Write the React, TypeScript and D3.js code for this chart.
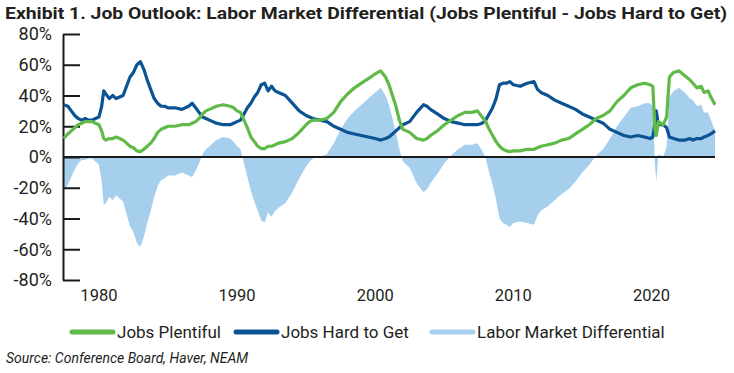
import React, { useEffect, useRef } from "react";
import * as d3 from "d3";

// decimal years of the readings
const dates = [
  1977.45, 1977.75, 1978, 1978.25, 1978.5, 1978.75, 1979, 1979.25, 1979.5, 1979.75,
  1980, 1980.2, 1980.35, 1980.5, 1980.75, 1981, 1981.25, 1981.5, 1981.75, 1982, 1982.25, 1982.5,
  1982.75, 1983, 1983.25, 1983.5, 1983.75, 1984, 1984.25, 1984.5, 1984.75, 1985, 1985.5, 1986,
  1986.5, 1986.75, 1987, 1987.25, 1987.5, 1987.75, 1988, 1988.5, 1989, 1989.5, 1989.75,
  1990, 1990.25, 1990.5, 1990.75, 1991, 1991.25, 1991.5, 1991.75, 1992, 1992.25, 1992.5, 1992.75,
  1993, 1993.5, 1994, 1994.5, 1995, 1995.25, 1995.5, 1996, 1996.5, 1997, 1997.5, 1998, 1998.5,
  1999, 1999.5,
  2000, 2000.4, 2000.75, 2001, 2001.25, 2001.5, 2001.75, 2002, 2002.5, 2003, 2003.5, 2003.75,
  2004, 2004.5, 2005, 2005.5, 2006, 2006.5, 2007, 2007.4, 2007.75, 2008, 2008.25, 2008.5,
  2008.75, 2009, 2009.25, 2009.5, 2009.75,
  2010, 2010.5, 2011, 2011.5, 2011.75, 2012, 2012.5, 2013, 2013.5, 2014, 2014.5, 2015, 2015.5,
  2016, 2016.5, 2017, 2017.5, 2018, 2018.5, 2019, 2019.5, 2019.9,
  2020.1, 2020.25, 2020.35, 2020.5, 2020.85, 2021.1, 2021.3, 2021.6, 2022, 2022.4, 2022.8,
  2023, 2023.3, 2023.6, 2023.8, 2024.1, 2024.3, 2024.6,
];

const jobsPlentiful = [
  12, 15, 17, 19, 21, 22, 23, 23, 23, 22,
  21, 17, 12, 11, 12, 12, 13, 12, 11, 9, 7, 6,
  4, 3.5, 5, 7, 9, 12, 16, 18, 19, 20, 20, 21,
  21, 22, 23, 25, 28, 30, 31, 33, 34, 33, 32,
  30, 29, 24, 19, 13, 10, 7, 5.5, 5.5, 7, 7, 8,
  9, 10, 12, 16, 21, 23, 24, 24, 25, 29, 36, 41, 45,
  48, 51,
  54, 56, 52, 47, 40, 33, 24, 18, 16, 12, 11, 12,
  14, 17, 21, 24, 27, 29, 29, 30, 26, 23, 18, 14,
  10, 7, 5, 4, 3.5,
  4, 4, 5, 5, 6, 7, 8, 9, 11, 12, 15, 18, 21,
  25, 27, 30, 36, 40, 45, 47, 48, 47,
  46, 18, 14, 23, 21, 26, 52, 55, 56, 53, 50,
  48, 45, 46, 42, 43, 39, 34,
];

const jobsHardToGet = [
  34, 33, 30, 27, 25, 24, 25, 24, 24, 25,
  26, 33, 43, 41, 38, 40, 38, 39, 40, 46, 52, 55,
  60, 62, 57, 50, 44, 38, 35, 33, 33, 32, 32, 31,
  33, 35, 32, 29, 26, 25, 24, 22, 21, 21, 22,
  23, 24, 28, 32, 35, 39, 42, 47, 48, 43, 46, 43,
  42, 40, 35, 30, 27, 26, 25, 24, 23, 20, 18, 16, 15,
  14, 13,
  12, 11, 12, 13, 15, 17, 19, 21, 23, 29, 34, 33,
  31, 28, 25, 23, 22, 21, 21, 21, 22, 24, 28, 32,
  38, 47, 48, 48, 49,
  47, 46, 48, 49, 44, 42, 40, 37, 35, 33, 31, 28, 26,
  24, 22, 18, 16, 14, 13, 14, 13, 12,
  13, 22, 30, 21, 21, 19, 13, 12, 11, 11, 12,
  11, 12, 12, 13, 14, 15, 17,
];

const yTicks = [-80, -60, -40, -20, 0, 20, 40, 60, 80];
const xTicks = [1980, 1990, 2000, 2010, 2020];

const seriesNames = ["Jobs Plentiful", "Jobs Hard to Get", "Labor Market Differential"];
const seriesColors = ["#5fba47", "#0b5392", "#a6cfee"];

const App = () => {
  const chartRef = useRef(null);

  useEffect(() => {
    const width = 734;
    const height = 373;
    const font = "Roboto, 'Open Sans', sans-serif";
    const textColor = "#231f20";

    const svg = d3.select(chartRef.current).attr("width", width).attr("height", height);
    svg.selectAll("*").remove();

    const x = d3.scaleLinear().domain([1977.4, 2024.6]).range([63, 715]);
    const y = d3.scaleLinear().domain([-80, 80]).range([280, 34]);

    const points = dates.map((d, i) => ({
      x: d,
      jp: jobsPlentiful[i],
      jh: jobsHardToGet[i],
      diff: jobsPlentiful[i] - jobsHardToGet[i],
    }));

    // title
    svg
      .append("text")
      .attr("x", 5)
      .attr("y", 19)
      .attr("font-family", font)
      .attr("font-weight", 700)
      .attr("font-size", 16)
      .attr("fill", textColor)
      .attr("textLength", 722)
      .attr("lengthAdjust", "spacingAndGlyphs")
      .text("Exhibit 1. Job Outlook: Labor Market Differential (Jobs Plentiful - Jobs Hard to Get)");

    // differential area
    const area = d3
      .area()
      .x((d) => x(d.x))
      .y0(y(0))
      .y1((d) => y(d.diff));

    svg.append("path").datum(points).attr("fill", seriesColors[2]).attr("d", area);

    // zero line
    svg
      .append("line")
      .attr("x1", x.range()[0])
      .attr("x2", x.range()[1])
      .attr("y1", y(0))
      .attr("y2", y(0))
      .attr("stroke", "#1a1a1a")
      .attr("stroke-width", 2);

    // y axis with inward ticks
    const yAxis = svg
      .append("g")
      .attr("transform", `translate(${x.range()[0]},0)`)
      .call(d3.axisRight(y).tickValues(yTicks).tickSize(17).tickSizeOuter(0).tickFormat(""));
    yAxis.selectAll("line").attr("stroke", "#1a1a1a").attr("stroke-width", 2);
    yAxis.select(".domain").attr("stroke", "#1a1a1a").attr("stroke-width", 2);

    svg
      .append("g")
      .selectAll("text")
      .data(yTicks)
      .enter()
      .append("text")
      .attr("x", 52)
      .attr("y", (d) => y(d))
      .attr("dy", "0.35em")
      .attr("text-anchor", "end")
      .attr("font-family", font)
      .attr("font-size", 18)
      .attr("fill", textColor)
      .text((d) => `${d}%`);

    svg
      .append("g")
      .selectAll("text")
      .data(xTicks)
      .enter()
      .append("text")
      .attr("x", (d) => x(d))
      .attr("y", 301)
      .attr("text-anchor", "middle")
      .attr("font-family", font)
      .attr("font-size", 16.5)
      .attr("fill", textColor)
      .text((d) => d);

    // lines
    const lineHard = d3
      .line()
      .x((d) => x(d.x))
      .y((d) => y(d.jh));
    const linePlentiful = d3
      .line()
      .x((d) => x(d.x))
      .y((d) => y(d.jp));

    svg
      .append("path")
      .datum(points)
      .attr("fill", "none")
      .attr("stroke", seriesColors[1])
      .attr("stroke-width", 3.2)
      .attr("stroke-linejoin", "round")
      .attr("d", lineHard);

    svg
      .append("path")
      .datum(points)
      .attr("fill", "none")
      .attr("stroke", seriesColors[0])
      .attr("stroke-width", 3.2)
      .attr("stroke-linejoin", "round")
      .attr("d", linePlentiful);

    // legend
    const legendX = [70, 234, 430];
    const legend = svg
      .append("g")
      .selectAll("g")
      .data(seriesNames)
      .enter()
      .append("g")
      .attr("transform", (d, i) => `translate(${legendX[i]},332)`);

    legend
      .append("line")
      .attr("x1", 2)
      .attr("x2", 43)
      .attr("stroke", (d, i) => seriesColors[i])
      .attr("stroke-width", 5)
      .attr("stroke-linecap", "round");

    legend
      .append("text")
      .attr("x", 47)
      .attr("dy", "0.35em")
      .attr("font-family", font)
      .attr("font-size", 17)
      .attr("fill", textColor)
      .text((d) => d);

    svg
      .append("text")
      .attr("x", 6)
      .attr("y", 363)
      .attr("font-family", font)
      .attr("font-style", "italic")
      .attr("font-size", 14)
      .attr("fill", textColor)
      .text("Source: Conference Board, Haver, NEAM");
  }, []);

  return (
    <div style={{ position: "absolute", left: 0, top: 0 }}>
      <svg ref={chartRef}></svg>
    </div>
  );
};

export default App;
